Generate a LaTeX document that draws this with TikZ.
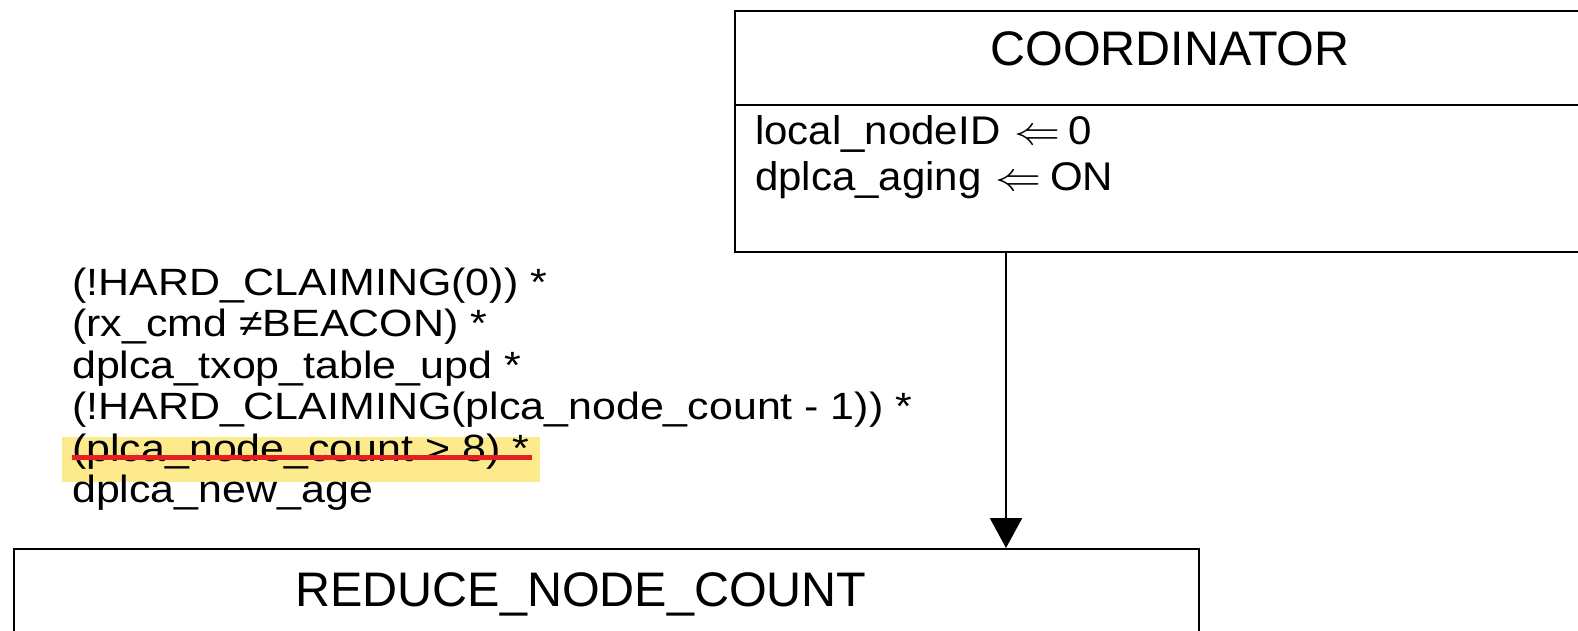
\RequirePackage{fix-cm}
\documentclass[tikz,border=0pt]{standalone}
\usepackage{fontspec}
\setmainfont{Liberation Sans}
\newfontfamily\guardfont[FakeStretch=1.13]{Liberation Sans}
\newfontfamily\actionfont[FakeStretch=1.05]{Liberation Sans}
\usetikzlibrary{arrows.meta}
\definecolor{marker}{RGB}{252,234,140}
\definecolor{strike}{RGB}{228,32,32}
\newcommand{\assign}{\hspace{0.05em}\scalebox{1.15}[1]{$\Leftarrow$}\hspace{0.22em}}
\tikzset{
  statebox/.style={draw=black, line width=2.3pt, rectangle, inner sep=0pt},
  titletext/.style={font=\fontsize{48.5}{58}\selectfont, inner sep=0pt, anchor=base},
  actiontext/.style={font=\actionfont\fontsize{40}{48}\selectfont, inner sep=0pt, anchor=base west},
  guardtext/.style={font=\guardfont\fontsize{38}{46}\selectfont, inner sep=0pt, anchor=base west},
  flow/.style={line width=2.3pt, -{Triangle[length=30pt,width=32pt]}}
}
\begin{document}
\begin{tikzpicture}[x=1pt,y=-1pt]
\useasboundingbox (0,0) rectangle (1578,630);
\clip (0,0) rectangle (1578,630);

% state boxes
\node[statebox, minimum width=880pt, minimum height=241pt, anchor=north west] (coord) at (734,10) {};
\node[statebox, minimum width=1185pt, minimum height=200pt, anchor=north west] (reduce) at (13,548) {};
\draw[line width=2.3pt] (coord.west |- 0,105) -- (coord.east |- 0,105);

% state names
\node[titletext] (coordname) at (1170,65) {COORDINATOR};
\node[titletext] (reducename) at (581,606) {REDUCE\_NODE\_COUNT};

% state actions
\node[actiontext] (act1) at (755,144) {local\_nodeID \assign 0};
\node[actiontext] (act2) at (755,190) {dplca\_aging \assign ON};

% highlighted, struck-out term of the guard
\fill[marker] (62,437) rectangle (540,482);

% transition guard
\node[guardtext] (g1) at (72,295) {(!HARD\_CLAIMING(0)) *};
\node[guardtext] (g2) at (72,336.5) {(rx\_cmd ≠BEACON) *};
\node[guardtext] (g3) at (72,378) {dplca\_txop\_table\_upd *};
\node[guardtext] (g4) at (72,419.5) {(!HARD\_CLAIMING(plca\_node\_count - 1)) *};
\node[guardtext] (g5) at (72,461) {(plca\_node\_count > 8) *};
\node[guardtext] (g6) at (72,502.5) {dplca\_new\_age};
\draw[strike, line width=4.2pt] (g5.west |- 0,457.5) -- (532,457.5);

% transition
\coordinate (tx) at (1006,0);
\draw[flow] (coord.south -| tx) -- (reduce.north -| tx);
\end{tikzpicture}
\end{document}
